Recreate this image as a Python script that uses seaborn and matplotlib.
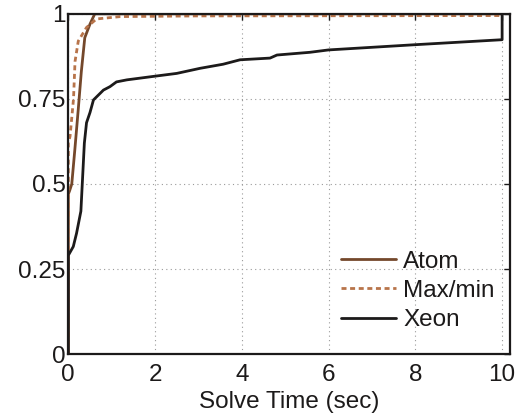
import matplotlib
matplotlib.use("Agg")
import matplotlib.pyplot as plt
import seaborn as sns
import pandas as pd

# Data
atom_x = [0, 0, 0.03, 0.08, 0.15, 0.23, 0.30, 0.38, 0.50, 0.61, 10.0]
atom_y = [0, 0.47, 0.48, 0.50, 0.60, 0.72, 0.83, 0.93, 0.97, 1.0, 1.0]

maxmin_x = [0, 0, 0.04, 0.12, 0.155, 0.23, 0.42, 0.65, 1.2, 3.0, 10.0]
maxmin_y = [0, 0.62, 0.64, 0.75, 0.86, 0.92, 0.96, 0.985, 0.992, 0.994, 0.995]

xeon_x = [0, 0, 0.115, 0.19, 0.29, 0.33, 0.37, 0.42, 0.50, 0.58, 0.81, 0.96, 1.11, 1.35,
          1.95, 2.5, 3.04, 3.57, 3.96, 4.65, 4.81, 5.57, 6.0, 7.95, 10.0, 10.0]
xeon_y = [0, 0.29, 0.316, 0.355, 0.42, 0.52, 0.62, 0.68, 0.71, 0.747, 0.776, 0.786, 0.80, 0.806,
          0.816, 0.825, 0.84, 0.852, 0.865, 0.87, 0.879, 0.887, 0.894, 0.909, 0.924, 1.0]

series = ["Atom", "Max/min", "Xeon"]
colors = {"Atom": "#74482b", "Max/min": "#b8744a", "Xeon": "#1c1a1a"}
x_ticks = [0, 2, 4, 6, 8, 10]
y_ticks = [0, 0.25, 0.5, 0.75, 1]
y_tick_labels = ["0", "0.25", "0.5", "0.75", "1"]

sns.set_theme(style="white")
plt.rcParams["font.family"] = ["Liberation Sans", "DejaVu Sans"]

FS = 17.5
fig = plt.figure(figsize=(5.23, 4.2), dpi=100)
ax = fig.add_axes([0.1306, 0.157, 0.8444, 0.81])

data = {
    "Atom": (atom_x, atom_y),
    "Max/min": (maxmin_x, maxmin_y),
    "Xeon": (xeon_x, xeon_y),
}
for name in series:
    xs, ys = data[name]
    df = pd.DataFrame({"t": xs, "p": ys})
    sns.lineplot(data=df, x="t", y="p", ax=ax, estimator=None, sort=False,
                 color=colors[name], label=name, lw=2.0)
    if name == "Max/min":
        ax.lines[-1].set_linestyle((0, (1.8, 1.3)))

ax.set_xlim(0, 10.18)
ax.set_ylim(0, 1)
ax.set_xticks(x_ticks)
ax.set_xticklabels([str(t) for t in x_ticks])
ax.set_yticks(y_ticks)
ax.set_yticklabels(y_tick_labels)
ax.grid(True, linestyle=(0, (1, 3)), color="#9a9a9a", linewidth=0.8)
for s in ax.spines.values():
    s.set_visible(True)
    s.set_color("#1c1a1a")
    s.set_linewidth(1.6)
ax.tick_params(direction="in", length=4, width=1, colors="#1c1a1a",
               labelsize=FS, top=True, right=True, pad=2)
ax.tick_params(axis="x", pad=7)
ax.set_xlabel("Solve Time (sec)", fontsize=FS, labelpad=4, color="#1c1a1a")
ax.set_ylabel("")

leg = ax.legend(loc="lower right", frameon=False, fontsize=FS, handlelength=2.25,
                labelspacing=0.3, handletextpad=0.3, bbox_to_anchor=(0.999, 0.024),
                borderaxespad=0.2)
for t in leg.get_texts():
    t.set_color("#1c1a1a")

fig.savefig("out.png", dpi=100)
